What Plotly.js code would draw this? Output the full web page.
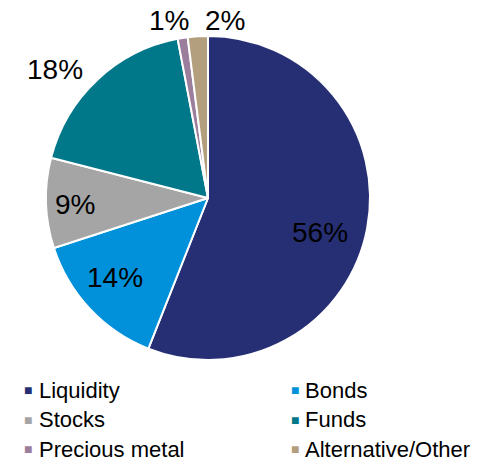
<!DOCTYPE html>
<html><head><meta charset="utf-8">
<script src="https://cdn.plot.ly/plotly-3.0.1.min.js"></script>
<style>html,body{margin:0;padding:0;background:#fff}#chart{width:488px;height:461px}</style>
</head><body><div id="chart"></div>
<script>
const categories = ["Liquidity", "Bonds", "Stocks", "Funds", "Precious metal", "Alternative/Other"];
const shares = [56, 14, 9, 18, 1, 2];
const colors = ["#262F73", "#0091DA", "#A5A5A5", "#00788A", "#9B7D9C", "#B39E7E"];

const W = 488, H = 461, cx = 208, cy = 198, r = 162;
const FONT = "Liberation Sans, Arial, sans-serif";

// data-label styling: radial distance factor (of radius) and pixel nudges
const labRadius = [0.72, 0.75, 0.82, 1.23, 1.12, 1.12];
const labNudgeX = [-3, -4, 0, -17, -11, 28];
const labNudgeY = [13, -4, 2, 17, 2, 4];

const total = shares.reduce((a, b) => a + b, 0);
const annotations = [];
let cum = 0;
shares.forEach((v, i) => {
  const mid = (cum + v / 2) / total * 2 * Math.PI; // clockwise from 12 o'clock
  cum += v;
  const px = cx + labRadius[i] * r * Math.sin(mid) + labNudgeX[i];
  const py = cy - labRadius[i] * r * Math.cos(mid) + labNudgeY[i];
  annotations.push({
    xref: "paper", yref: "paper", x: px / W, y: 1 - py / H,
    xanchor: "center", yanchor: "middle", showarrow: false,
    text: v + "%", font: {family: FONT, size: 28, color: "#000"}
  });
});

// legend in two columns
const legMarkX = [22, 289], legTextX = [37, 303], legRow0 = 390, legRowStep = 29.7;
categories.forEach((c, i) => {
  const col = i % 2, row = Math.floor(i / 2);
  const y = 1 - (legRow0 + row * legRowStep) / H;
  annotations.push({
    xref: "paper", yref: "paper", x: legMarkX[col] / W, y: y,
    xanchor: "left", yanchor: "middle", showarrow: false,
    text: '<span style="color:' + colors[i] + '">■</span>',
    font: {family: FONT, size: 14, color: colors[i]}
  });
  annotations.push({
    xref: "paper", yref: "paper", x: legTextX[col] / W, y: y,
    xanchor: "left", yanchor: "middle", showarrow: false,
    text: c, font: {family: FONT, size: 22, color: "#000"}
  });
});

Plotly.newPlot("chart", [{
  type: "pie",
  labels: categories,
  values: shares,
  sort: false,
  direction: "clockwise",
  rotation: 0,
  marker: {colors: colors, line: {color: "#ffffff", width: 2}},
  textinfo: "none",
  hoverinfo: "none",
  domain: {x: [(cx - r) / W, (cx + r) / W], y: [(H - cy - r) / H, (H - cy + r) / H]}
}], {
  width: W, height: H,
  margin: {l: 0, r: 0, t: 0, b: 0},
  paper_bgcolor: "#ffffff",
  showlegend: false,
  annotations: annotations
}, {displayModeBar: false, staticPlot: true});
</script></body></html>
